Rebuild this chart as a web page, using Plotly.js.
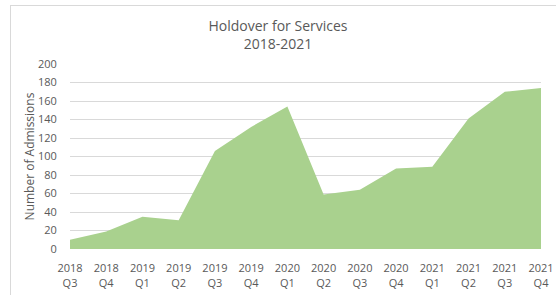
<!DOCTYPE html>
<html><head><meta charset="utf-8">
<script src="https://cdn.plot.ly/plotly-3.0.1.min.js"></script>
<style>
html,body{margin:0;padding:0;background:#fff;}
#wrap{position:relative;width:556px;height:295px;}
#chart{width:556px;height:295px;}
#frame{position:absolute;left:10px;top:5px;width:560px;height:300px;border:1px solid #d9d9d9;pointer-events:none;}
</style></head>
<body>
<div id="wrap"><div id="chart"></div><div id="frame"></div></div>
<script>
const quarters = ["2018<br>Q3","2018<br>Q4","2019<br>Q1","2019<br>Q2","2019<br>Q3","2019<br>Q4","2020<br>Q1","2020<br>Q2","2020<br>Q3","2020<br>Q4","2021<br>Q1","2021<br>Q2","2021<br>Q3","2021<br>Q4"];
const admissions = [10, 19, 35, 31, 106, 132, 154, 59, 64, 87, 89, 141, 170, 174];
const yTicks = [0,20,40,60,80,100,120,140,160,180,200];

const font = "Open Sans, Liberation Sans, sans-serif";
Plotly.newPlot("chart", [{
  x: quarters, y: admissions, type: "scatter", mode: "lines",
  fill: "tozeroy", fillcolor: "#A9D18E", line: {width: 0, color: "#A9D18E"},
  hoverinfo: "x+y"
}], {
  width: 556, height: 295,
  margin: {l: 70, r: 15, t: 64, b: 46},
  paper_bgcolor: "#fff", plot_bgcolor: "#fff",
  showlegend: false,
  font: {family: font, color: "#595959", size: 11},
  title: {text: "Holdover for Services<br>2018-2021", x: 0.5, xanchor: "center", y: 0.895, yanchor: "middle",
          font: {family: font, size: 14, color: "#595959"}},
  xaxis: {type: "category", range: [0, 13], showgrid: false, zeroline: false, showline: false,
          ticks: "outside", ticklen: 9, tickcolor: "rgba(0,0,0,0)", tickfont: {size: 11, color: "#595959"}},
  yaxis: {range: [0, 200], tickvals: yTicks, showgrid: true, gridcolor: "#d9d9d9", gridwidth: 1,
          zeroline: false, showline: false, ticks: "outside", ticklen: 10, tickcolor: "rgba(0,0,0,0)",
          tickfont: {size: 11, color: "#595959"},
          title: {text: "Number of Admissions", font: {size: 12, color: "#595959"}, standoff: 0}}
}, {displayModeBar: false, staticPlot: true});
</script>
</body></html>
